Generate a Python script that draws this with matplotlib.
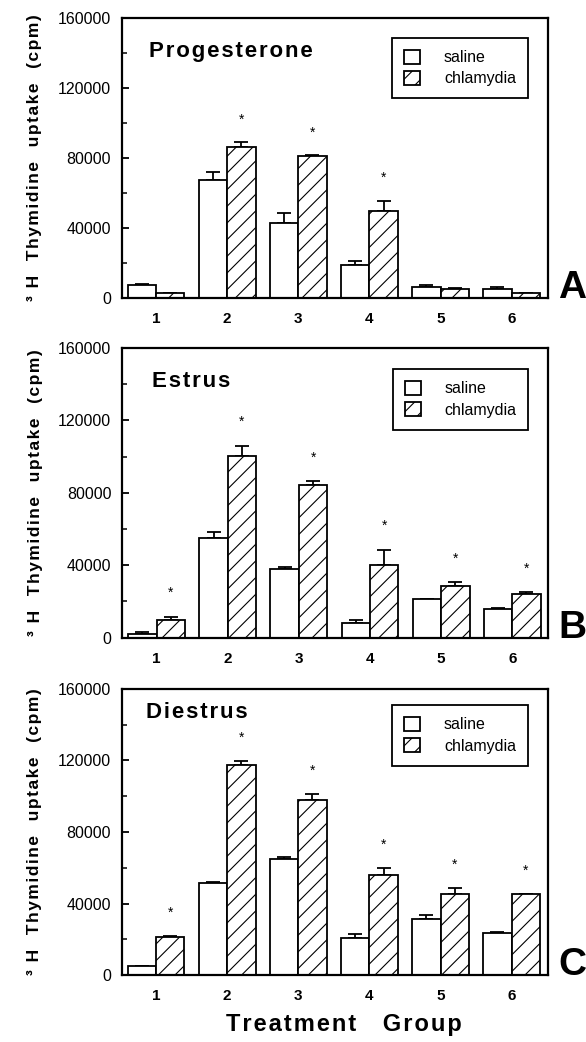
import matplotlib
matplotlib.use('Agg')
import matplotlib.pyplot as plt
import numpy as np

plt.rcParams['font.family'] = ['Liberation Sans', 'DejaVu Sans']
plt.rcParams['hatch.linewidth'] = 0.8

groups = ['1', '2', '3', '4', '5', '6']
series_names = ['saline', 'chlamydia']
panel_titles = ['Progesterone', 'Estrus', 'Diestrus']
panel_letters = ['A', 'B', 'C']

# progesterone (A)
prog_saline = [7300, 67600, 42900, 18800, 6300, 5400]
prog_saline_err = [900, 4400, 5900, 2400, 1200, 700]
prog_chlam = [3000, 86000, 80800, 49600, 5000, 2900]
prog_chlam_err = [0, 3000, 700, 5900, 500, 0]
prog_star = [False, True, True, True, False, False]

# estrus (B)
est_saline = [2000, 55000, 38000, 7900, 21500, 15600]
est_saline_err = [1300, 3300, 800, 2000, 0, 800]
est_chlam = [9600, 100200, 84400, 39900, 28500, 24300]
est_chlam_err = [2000, 5800, 2000, 8700, 2000, 900]
est_star = [True, True, True, True, True, True]

# diestrus (C)
die_saline = [5000, 51600, 65200, 20700, 31600, 23400]
die_saline_err = [0, 700, 800, 2100, 2000, 900]
die_chlam = [21300, 117400, 98100, 55900, 45600, 45400]
die_chlam_err = [700, 2200, 2900, 3900, 3000, 0]
die_star = [True, True, True, True, True, True]

panels = [
    (prog_saline, prog_saline_err, prog_chlam, prog_chlam_err, prog_star),
    (est_saline, est_saline_err, est_chlam, est_chlam_err, est_star),
    (die_saline, die_saline_err, die_chlam, die_chlam_err, die_star),
]


def spaced(s):
    # poor man's letter spacing: hair space between letters
    return '\u200a'.join(s)


# [left, bottom, width, height] in figure fractions
positions = [
    [0.208, 0.714, 0.727, 0.269],
    [0.209, 0.388, 0.727, 0.278],
    [0.208, 0.064, 0.727, 0.275],
]
title_xy = [(0.063, 0.879), (0.070, 0.886), (0.056, 0.916)]
legend_top = [0.929, 0.928, 0.944]

fig = plt.figure(figsize=(5.86, 10.42), dpi=100)
x = np.arange(1, len(groups) + 1)
w = 0.40

ylab = spaced('\u00b3 H') + '   ' + spaced('Thymidine') + '   ' + \
    spaced('uptake') + '   ' + spaced('(cpm)')

for i, (sal, sal_err, chl, chl_err, star) in enumerate(panels):
    ax = fig.add_axes(positions[i])
    ax.bar(x - w / 2, sal, w, color='white', edgecolor='black',
           linewidth=1.3, label=series_names[0], zorder=2)
    ax.bar(x + w / 2, chl, w, color='white', edgecolor='black',
           linewidth=1.3, hatch='//', label=series_names[1], zorder=2)
    ax.errorbar(x - w / 2, sal, yerr=[np.zeros(len(sal)), sal_err], fmt='none',
                ecolor='black', elinewidth=1.3, capsize=4.7, capthick=1.3, zorder=1)
    ax.errorbar(x + w / 2, chl, yerr=[np.zeros(len(chl)), chl_err], fmt='none',
                ecolor='black', elinewidth=1.3, capsize=4.7, capthick=1.3, zorder=1)
    for j in range(len(groups)):
        if star[j]:
            ax.text(x[j] + w / 2, chl[j] + chl_err[j] + 13000, '*',
                    ha='center', va='center', fontsize=10)

    ax.set_xlim(0.52, 6.51)
    ax.set_ylim(0, 160000)
    ax.set_yticks([0, 40000, 80000, 120000, 160000])
    ax.set_yticks([20000, 60000, 100000, 140000], minor=True)
    ax.set_xticks(x)
    ax.set_xticklabels(groups, fontweight='bold', fontsize=11)
    ax.tick_params(axis='y', which='major', direction='in', length=5,
                   width=1.3, labelsize=11.5, pad=8)
    ax.tick_params(axis='y', which='minor', direction='in', length=3.5, width=1.1)
    ax.tick_params(axis='x', length=0, pad=10)
    for s in ax.spines.values():
        s.set_linewidth(1.6)

    ax.set_ylabel(ylab, fontsize=12.5, fontweight='bold', labelpad=11)
    ax.text(title_xy[i][0], title_xy[i][1], spaced(panel_titles[i]),
            transform=ax.transAxes, fontsize=16, fontweight='bold',
            ha='left', va='center')
    ax.text(1.024, 0.0, panel_letters[i], transform=ax.transAxes,
            fontsize=28, fontweight='bold', ha='left', va='baseline',
            family=['Liberation Sans Narrow', 'Liberation Sans'])

    leg = ax.legend(loc='upper right', bbox_to_anchor=(0.953, legend_top[i]),
                    borderaxespad=0, fontsize=11.5, handlelength=1.0,
                    handleheight=1.0, handletextpad=1.5, borderpad=0.75,
                    labelspacing=0.35, fancybox=False, framealpha=1,
                    edgecolor='black')
    leg.get_frame().set_linewidth(1.3)
    if i == 2:
        ax.set_xlabel(spaced('Treatment') + '    ' + spaced('Group'),
                      fontsize=17, fontweight='bold', labelpad=9)
        ax.xaxis.set_label_coords(0.52, -0.13)

fig.savefig('out.png', dpi=100)
